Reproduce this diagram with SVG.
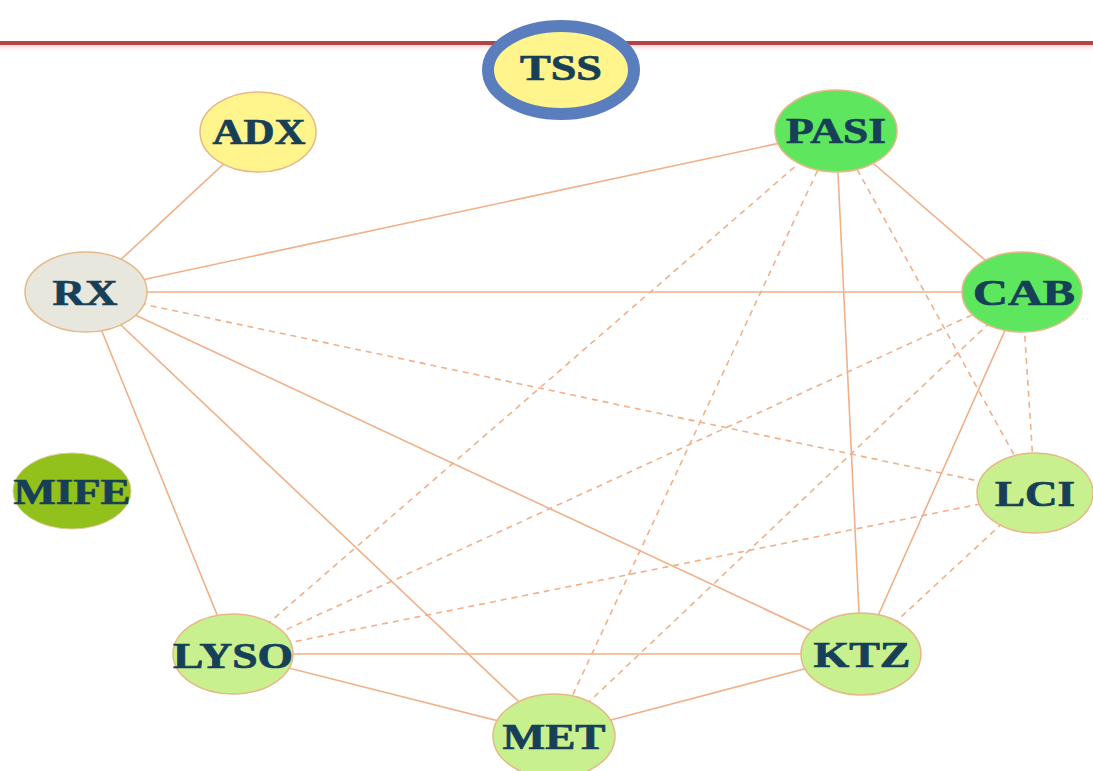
<svg xmlns="http://www.w3.org/2000/svg" width="1093" height="771" viewBox="0 0 1093 771">
<style>
.e{stroke:#f0b088;stroke-width:1.6;fill:none}
.d{stroke-dasharray:6 5}
.n{stroke:#e6b888;stroke-width:1.5}
.t{font-family:"Liberation Serif","Times New Roman",serif;font-weight:bold;font-size:35px;fill:#173f58;stroke:#173f58;stroke-width:0.7;text-anchor:middle}
.y{fill:#fff58c}
.g{fill:#5de65e}
.l{fill:#c8f08e}
</style>
<defs>
<linearGradient id="sh" x1="0" y1="0" x2="0" y2="1">
<stop offset="0" stop-color="#f2c8c8"/>
<stop offset="1" stop-color="#ffffff" stop-opacity="0"/>
</linearGradient>
</defs>
<rect width="1093" height="771" fill="#ffffff"/>
<rect x="0" y="44" width="1093" height="9" fill="url(#sh)"/>
<rect x="0" y="41" width="1093" height="4" fill="#b34345"/>
<g id="connectors">
<line class="e" x1="258" y1="132" x2="86" y2="292"/>
<line class="e" x1="86" y1="292" x2="836" y2="131"/>
<line class="e" x1="86" y1="292" x2="1022" y2="292"/>
<line class="e" x1="86" y1="292" x2="233" y2="654"/>
<line class="e" x1="86" y1="292" x2="554" y2="735"/>
<line class="e" x1="86" y1="292" x2="861" y2="654"/>
<line class="e" x1="836" y1="131" x2="1022" y2="292"/>
<line class="e" x1="836" y1="131" x2="861" y2="654"/>
<line class="e" x1="1022" y1="292" x2="861" y2="654"/>
<line class="e" x1="233" y1="654" x2="861" y2="654"/>
<line class="e" x1="233" y1="654" x2="554" y2="735"/>
<line class="e" x1="554" y1="735" x2="861" y2="654"/>
<line class="e d" x1="86" y1="292" x2="1035" y2="493"/>
<line class="e d" x1="836" y1="131" x2="233" y2="654"/>
<line class="e d" x1="836" y1="131" x2="554" y2="735"/>
<line class="e d" x1="836" y1="131" x2="1035" y2="493"/>
<line class="e d" x1="1022" y1="292" x2="233" y2="654"/>
<line class="e d" x1="1022" y1="292" x2="554" y2="735"/>
<line class="e d" x1="1022" y1="292" x2="1035" y2="493"/>
<line class="e d" x1="1035" y1="493" x2="233" y2="654"/>
<line class="e d" x1="1035" y1="493" x2="861" y2="654"/>
</g>
<g id="TSS">
<ellipse cx="561" cy="70" rx="73" ry="44" fill="#fff58c" stroke="#5a7dbd" stroke-width="12"/>
<text class="t" x="561" y="80" textLength="82" lengthAdjust="spacingAndGlyphs">TSS</text>
</g>
<g id="ADX">
<ellipse class="n y" cx="258" cy="132" rx="58" ry="40"/>
<text class="t" x="259" y="144" textLength="93" lengthAdjust="spacingAndGlyphs">ADX</text>
</g>
<g id="PASI">
<ellipse class="n g" cx="836" cy="131" rx="61" ry="41"/>
<text class="t" x="836" y="143" textLength="100" lengthAdjust="spacingAndGlyphs">PASI</text>
</g>
<g id="RX">
<ellipse class="n" fill="#e8e7de" cx="86" cy="292" rx="61" ry="40"/>
<text class="t" x="85" y="305" textLength="65" lengthAdjust="spacingAndGlyphs">RX</text>
</g>
<g id="CAB">
<ellipse class="n g" cx="1022" cy="292" rx="60" ry="40"/>
<text class="t" x="1024" y="305" textLength="102" lengthAdjust="spacingAndGlyphs">CAB</text>
</g>
<g id="MIFE">
<ellipse cx="72" cy="491" rx="59" ry="38" fill="#93c11b" stroke="#d8c890" stroke-width="1"/>
<text class="t" x="72" y="504" textLength="117" lengthAdjust="spacingAndGlyphs">MIFE</text>
</g>
<g id="LCI">
<ellipse class="n l" cx="1035" cy="493" rx="58" ry="40"/>
<text class="t" x="1035" y="506" textLength="80" lengthAdjust="spacingAndGlyphs">LCI</text>
</g>
<g id="LYSO">
<ellipse class="n l" cx="233" cy="654" rx="60" ry="40"/>
<text class="t" x="233" y="668" textLength="120" lengthAdjust="spacingAndGlyphs">LYSO</text>
</g>
<g id="KTZ">
<ellipse class="n l" cx="861" cy="654" rx="60" ry="41"/>
<text class="t" x="862" y="667" textLength="97" lengthAdjust="spacingAndGlyphs">KTZ</text>
</g>
<g id="MET">
<ellipse class="n l" cx="554" cy="736" rx="61" ry="42"/>
<text class="t" x="554" y="749" textLength="103" lengthAdjust="spacingAndGlyphs">MET</text>
</g>
</svg>
